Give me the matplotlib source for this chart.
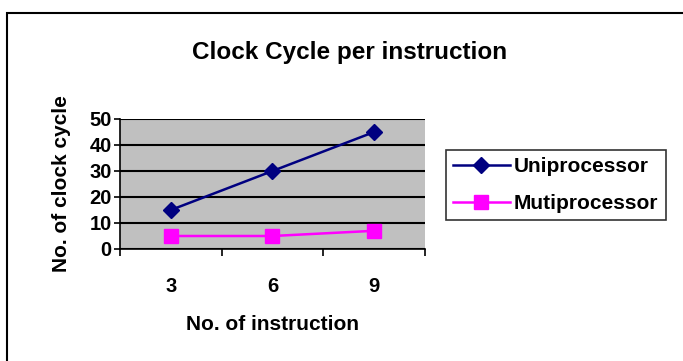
import numpy as np
import matplotlib.pyplot as plt
from matplotlib.patches import Rectangle

# datos del grafico
categorias = ['3', '6', '9']
uniprocesador = [15, 30, 45]
multiprocesador = [5, 5, 7]
y_ticks = [0, 10, 20, 30, 40, 50]

plt.rcParams['font.family'] = ['Liberation Sans', 'DejaVu Sans']
plt.rcParams['font.weight'] = 'bold'

fig = plt.figure(figsize=(6.83, 3.61), dpi=100)
W, H = 683, 361

# marco exterior del grafico (se sale por la derecha y abajo)
fig.patches.append(Rectangle((7 / W, -0.1), 1.2, 1 - 13 / H + 0.1,
                             transform=fig.transFigure, fill=False,
                             edgecolor='black', linewidth=1.5))

ax = fig.add_axes([120 / W, 1 - 249 / H, (425 - 120) / W, (249 - 119) / H])
ax.set_facecolor('#c0c0c0')

x = np.arange(len(categorias))
ax.plot(x, uniprocesador, color='#000080', marker='D', markersize=8,
        linewidth=1.8, label='Uniprocessor')
ax.plot(x, multiprocesador, color='#ff00ff', marker='s', markersize=10,
        linewidth=1.8, label='Mutiprocessor')

ax.set_xlim(-0.5, len(categorias) - 0.5)
ax.set_ylim(0, 50)
ax.set_yticks(y_ticks)
ax.yaxis.grid(True, color='black', linewidth=1.5)
ax.set_axisbelow(True)

# ticks del eje x entre categorias
ax.set_xticks(np.arange(-0.5, len(categorias), 1.0))
ax.set_xticklabels([])
ax.set_xticks(x, minor=True)
ax.set_xticklabels(categorias, minor=True, fontsize=14.5, fontweight='bold')
ax.tick_params(axis='x', which='minor', length=0, pad=20)
ax.tick_params(axis='x', which='major', length=5, width=1.2, direction='out')
ax.tick_params(axis='y', length=4, width=1.2, labelsize=14.5, pad=2)
for lbl in ax.get_yticklabels():
    lbl.set_fontweight('bold')

for s in ['top', 'right']:
    ax.spines[s].set_visible(False)
for s in ['left', 'bottom']:
    ax.spines[s].set_linewidth(1.2)

ax.set_xlabel('No. of instruction', fontsize=15, fontweight='bold', labelpad=14)
ax.set_ylabel('No. of clock cycle', fontsize=15, fontweight='bold', labelpad=13)

fig.text(350 / W, 1 - 52 / H, 'Clock Cycle per instruction', ha='center',
         va='center', fontsize=17.5, fontweight='bold')

leg = ax.legend(loc='upper left', bbox_to_anchor=(446 / W, 1 - 150 / H),
                bbox_transform=fig.transFigure, prop={'size': 15, 'weight': 'bold'},
                frameon=True, fancybox=False, edgecolor='black',
                handlelength=2.7, borderpad=0.35, labelspacing=0.85,
                handletextpad=0.2, borderaxespad=0)
leg.get_frame().set_linewidth(1.2)

fig.savefig('out.png', dpi=100)
